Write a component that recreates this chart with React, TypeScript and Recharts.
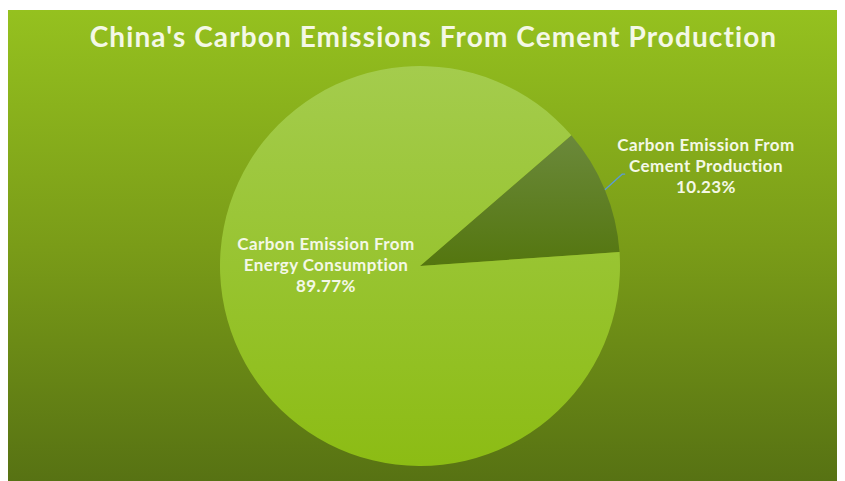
import { PieChart, Pie, Cell } from "recharts";

const title = "China's Carbon Emissions From Cement Production";
const categories = ["Carbon Emission From Energy Consumption", "Carbon Emission From Cement Production"];
const labelLines = [
	["Carbon Emission From", "Energy Consumption"],
	["Carbon Emission From", "Cement Production"],
];
const shares = [89.77, 10.23];

const data = categories.map((name, i) => ({ name, value: shares[i] }));

const fills = ["url(#energyFill)", "url(#cementFill)"];
const textColor = "#f4f8e6";
const font = "Lato, 'Open Sans', sans-serif";

// label anchors as fractions of the outer radius, from the pie centre
const labelPos = [
	{ x: -0.47, y: -0.08 },
	{ x: 1.43, y: -0.575 },
];

const renderLabel = (props: any) => {
	const { cx, cy, outerRadius, index, value } = props;
	const p = labelPos[index];
	const x = cx + p.x * outerRadius;
	const y = cy + p.y * outerRadius;
	return (
		<text
			x={x}
			y={y}
			textAnchor="middle"
			fill={textColor}
			fontFamily={font}
			fontWeight={700}
			fontSize={17}
			letterSpacing={0.4}
		>
			{labelLines[index].map((l, k) => (
				<tspan key={k} x={x} dy={k === 0 ? 0 : 21}>
					{l}
				</tspan>
			))}
			<tspan x={x} dy={21}>
				{value.toFixed(2)}%
			</tspan>
		</text>
	);
};

const renderLabelLine = (props: any) => {
	const { cx, cy, outerRadius, midAngle, index } = props;
	if (index !== 1) return <g />;
	const rad = (Math.PI / 180) * midAngle;
	const x1 = cx + outerRadius * Math.cos(rad);
	const y1 = cy - outerRadius * Math.sin(rad);
	const x2 = cx + (outerRadius + 22) * Math.cos(rad + 0.035);
	const y2 = cy - (outerRadius + 22) * Math.sin(rad + 0.035);
	return (
		<polyline
			points={`${x1},${y1} ${x2},${y2} ${x2 + 3},${y2}`}
			fill="none"
			stroke="#5b9bd5"
			strokeWidth={1.3}
		/>
	);
};

const App = () => {
	const startAngle = 4;
	const ordered = [...data].reverse();
	return (
		<div style={{ paddingTop: 2 }}>
			<div
				style={{
					width: 837,
					height: 471,
					background: "linear-gradient(180deg, #95c11f 0%, #7a9c18 50%, #577213 100%)",
					position: "relative",
				}}
			>
				<div
					style={{
						position: "absolute",
						top: 9,
						left: 7,
						width: 837,
						textAlign: "center",
						color: textColor,
						fontFamily: font,
						fontWeight: 700,
						fontSize: 28,
						letterSpacing: 1.1,
					}}
				>
					{title}
				</div>
				<PieChart width={837} height={471} margin={{ top: 0, right: 0, bottom: 0, left: 0 }}>
					<defs>
						<linearGradient id="energyFill" x1="0" y1="0" x2="0" y2="1">
							<stop offset="0%" stopColor="#a4cc4d" />
							<stop offset="100%" stopColor="#8cbc14" />
						</linearGradient>
						<linearGradient id="cementFill" x1="0" y1="0" x2="0" y2="1">
							<stop offset="0%" stopColor="#6b893b" />
							<stop offset="100%" stopColor="#54760f" />
						</linearGradient>
					</defs>
					<Pie
						data={ordered}
						dataKey="value"
						cx={412}
						cy={256}
						outerRadius={200}
						startAngle={startAngle}
						endAngle={startAngle + 360}
						stroke="none"
						isAnimationActive={false}
						label={(p: any) => renderLabel({ ...p, index: 1 - p.index })}
						labelLine={(p: any) => renderLabelLine({ ...p, index: 1 - p.index })}
					>
						{ordered.map((d, i) => (
							<Cell key={d.name} fill={fills[1 - i]} />
						))}
					</Pie>
				</PieChart>
			</div>
		</div>
	);
};

export default App;
